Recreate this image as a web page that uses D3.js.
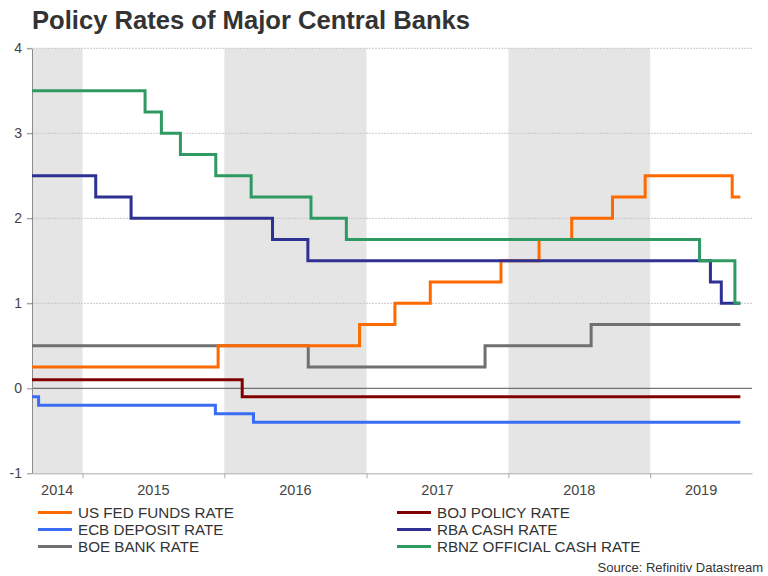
<!DOCTYPE html>
<html>
<head>
<meta charset="utf-8">
<script src="https://cdn.jsdelivr.net/npm/d3@7"></script>
<style>
  body { margin: 0; background: #fff; }
  text { font-family: "Liberation Sans", Arial, sans-serif; }
</style>
</head>
<body>
<svg id="canvas"></svg>
<script>
// Policy rates step chart

let width = 768
let height = 576

// chart data: change dates and the new rate from that date
let seriesNames = ['US FED FUNDS RATE', 'ECB DEPOSIT RATE', 'BOE BANK RATE',
                   'BOJ POLICY RATE', 'RBA CASH RATE', 'RBNZ OFFICIAL CASH RATE']
let colors = ['#ff6a00', '#3a6cf6', '#707070', '#800000', '#2e3192', '#2e9a62']

let fedDates = ['2014-08-24', '2015-12-16', '2016-12-14', '2017-03-15', '2017-06-14', '2017-12-13',
                '2018-03-21', '2018-06-13', '2018-09-26', '2018-12-19', '2019-07-31']
let fedRates = [0.25, 0.5, 0.75, 1.0, 1.25, 1.5, 1.75, 2.0, 2.25, 2.5, 2.25]

let ecbDates = ['2014-08-24', '2014-09-10', '2015-12-09', '2016-03-16']
let ecbRates = [-0.1, -0.2, -0.3, -0.4]

let boeDates = ['2014-08-24', '2016-08-04', '2017-11-02', '2018-08-02']
let boeRates = [0.5, 0.25, 0.5, 0.75]

let bojDates = ['2014-08-24', '2016-02-16']
let bojRates = [0.1, -0.1]

let rbaDates = ['2014-08-24', '2015-02-04', '2015-05-06', '2016-05-04', '2016-08-03', '2019-06-05', '2019-07-03']
let rbaRates = [2.5, 2.25, 2.0, 1.75, 1.5, 1.25, 1.0]

let rbnzDates = ['2014-08-24', '2015-06-11', '2015-07-23', '2015-09-10', '2015-12-10', '2016-03-10',
                 '2016-08-11', '2016-11-10', '2019-05-08', '2019-08-07']
let rbnzRates = [3.5, 3.25, 3.0, 2.75, 2.5, 2.25, 2.0, 1.75, 1.5, 1.0]

let lastDate = '2019-08-21'
let axisStart = '2014-08-24'
let axisEnd = '2019-09-20'
let shadedYears = [2014, 2016, 2018]
let labelYears = [2014, 2015, 2016, 2017, 2018, 2019]
let yTicks = [-1, 0, 1, 2, 3, 4]

let allDates = [fedDates, ecbDates, boeDates, bojDates, rbaDates, rbnzDates]
let allRates = [fedRates, ecbRates, boeRates, bojRates, rbaRates, rbnzRates]

let parse = d3.timeParse('%Y-%m-%d')

let svg = d3.select('#canvas').attr('width', width).attr('height', height)

let xScale = d3.scaleTime()
               .domain([parse(axisStart), parse(axisEnd)])
               .range([32, 752])
let yScale = d3.scaleLinear()
               .domain([-1, 4])
               .range([473.3, 48.3])

let plotLeft = xScale.range()[0], plotRight = xScale.range()[1]
let plotTop = yScale(4), plotBottom = yScale(-1)

// shaded years
svg.selectAll('.band')
   .data(shadedYears)
   .enter()
   .append('rect')
   .attr('class', 'band')
   .attr('x', (y) => xScale(d3.max([new Date(y, 0, 1), xScale.domain()[0]])))
   .attr('width', (y) => xScale(new Date(y + 1, 0, 1)) - xScale(d3.max([new Date(y, 0, 1), xScale.domain()[0]])))
   .attr('y', plotTop)
   .attr('height', plotBottom - plotTop)
   .style('fill', '#e5e5e5')

// dotted grid
svg.selectAll('.grid')
   .data(yTicks.filter((t) => t > 0))
   .enter()
   .append('line')
   .attr('x1', plotLeft - 5)
   .attr('x2', plotRight)
   .attr('y1', (t) => yScale(t))
   .attr('y2', (t) => yScale(t))
   .style('stroke', '#c8c8c8')
   .style('stroke-width', 1)
   .style('stroke-dasharray', '2,1')

// zero line
svg.append('line')
   .attr('x1', plotLeft)
   .attr('x2', plotRight)
   .attr('y1', yScale(0))
   .attr('y2', yScale(0))
   .style('stroke', '#555')
   .style('stroke-width', 1)

// y axis
let yAxis = d3.axisLeft(yScale)
              .tickValues(yTicks)
              .tickSize(5)
              .tickSizeOuter(0)
              .tickFormat((t) => String(t))
let yG = svg.append('g')
            .attr('transform', `translate(${plotLeft},0)`)
            .call(yAxis)
yG.select('.domain').style('stroke', '#8c8c8c')
yG.selectAll('line').style('stroke', '#8c8c8c')
yG.selectAll('text')
  .style('font-size', '14px')
  .style('fill', '#444')
  .attr('x', -10)

// x axis
let yearTicks = d3.range(2015, 2020).map((y) => new Date(y, 0, 1))
let xAxis = d3.axisBottom(xScale)
              .tickValues(yearTicks)
              .tickSize(5)
              .tickSizeOuter(0)
              .tickFormat('')
let xG = svg.append('g')
            .attr('transform', `translate(0,${plotBottom})`)
            .call(xAxis)
xG.select('.domain').style('stroke', '#aaa')
xG.selectAll('line').style('stroke', '#aaa')

svg.selectAll('.year-label')
   .data(labelYears)
   .enter()
   .append('text')
   .attr('class', 'year-label')
   .attr('x', (y) => {
     let a = d3.max([new Date(y, 0, 1), xScale.domain()[0]])
     let b = d3.min([new Date(y + 1, 0, 1), xScale.domain()[1]])
     return (xScale(a) + xScale(b)) / 2
   })
   .attr('y', 495)
   .attr('text-anchor', 'middle')
   .style('font-size', '14.5px')
   .style('fill', '#444')
   .text((y) => y)

// lines
let series = seriesNames.map((name, i) => {
  let pts = allDates[i].map((d, j) => ({date: parse(d), value: allRates[i][j]}))
  pts.push({date: parse(lastDate), value: allRates[i][allRates[i].length - 1]})
  return {name: name, color: colors[i], points: pts}
})

let line = d3.line()
             .x((p) => xScale(p.date))
             .y((p) => yScale(p.value))
             .curve(d3.curveStepAfter)

let drawOrder = [2, 3, 1, 0, 4, 5]
svg.selectAll('.series')
   .data(drawOrder.map((k) => series[k]))
   .enter()
   .append('path')
   .attr('class', 'series')
   .attr('d', (s) => line(s.points))
   .style('fill', 'none')
   .style('stroke', (s) => s.color)
   .style('stroke-width', 3)

// title
svg.append('text')
   .attr('x', 32)
   .attr('y', 29)
   .style('font-size', '25.6px')
   .style('font-weight', 'bold')
   .style('fill', '#333')
   .text('Policy Rates of Major Central Banks')

// legend
let legend = svg.selectAll('.legend-item')
                .data(series)
                .enter()
                .append('g')
                .attr('class', 'legend-item')
                .attr('transform', (s, i) => `translate(${i < 3 ? 38 : 397},${512.5 + (i % 3) * 17})`)

legend.append('line')
      .attr('x1', 0)
      .attr('x2', 34)
      .style('stroke', (s) => s.color)
      .style('stroke-width', 3)

legend.append('text')
      .attr('x', 40)
      .attr('y', 5.5)
      .style('font-size', '15.2px')
      .style('fill', '#333')
      .text((s) => s.name)

svg.append('text')
   .attr('x', 763)
   .attr('y', 572)
   .attr('text-anchor', 'end')
   .style('font-size', '13px')
   .style('fill', '#333')
   .text('Source: Refinitiv Datastream')
</script>
</body>
</html>
